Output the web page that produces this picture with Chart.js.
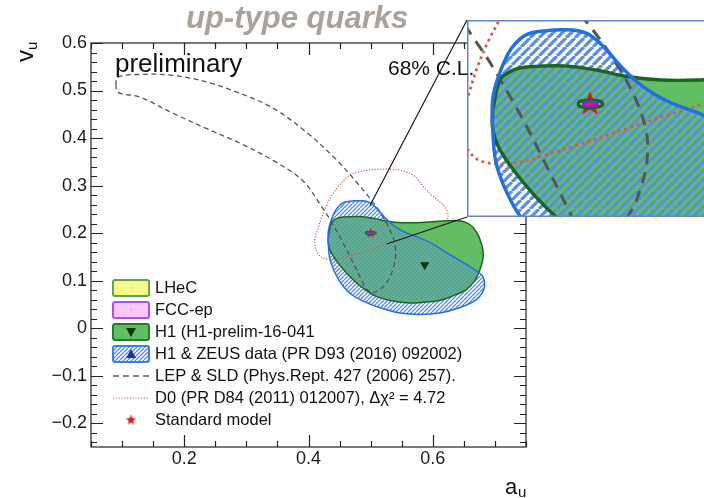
<!DOCTYPE html>
<html>
<head>
<meta charset="utf-8">
<script src="https://cdn.jsdelivr.net/npm/chart.js@4.4.1/dist/chart.umd.min.js"></script>
<style>
  html, body { margin: 0; padding: 0; background: #fff; overflow: hidden; width: 704px; height: 498px; }
  #wrap { position: relative; width: 704px; height: 498px; }
  canvas { position: absolute; }
  #main { left: 0; top: 0; }
  #inset { left: 467px; top: 20px; z-index: 2; }
  .txt { position: absolute; white-space: nowrap; font-family: 'Liberation Sans', Arial, sans-serif; z-index: 3; }
  #title { left: 186px; top: 2px; font-size: 31px; line-height: 31px; font-weight: bold; font-style: italic; color: #aba39b; }
  #prelim { left: 115px; top: 50px; font-size: 26px; line-height: 26px; color: #111; }
  #cl { left: 388px; top: 57px; font-size: 21px; line-height: 21px; color: #111; }
</style>
</head>
<body>
<div id="wrap">
  <canvas id="main" width="704" height="498"></canvas>
  <canvas id="inset" width="237" height="197"></canvas>
  <div class="txt" id="title">up-type quarks</div>
  <div class="txt" id="prelim">preliminary</div>
  <div class="txt" id="cl">68% C.L.</div>
</div>
<script>
// 68% C.L. contours, as [a_u, v_u]
const h1Contour = [
  [0.432, 0.194], [0.437, 0.222], [0.446, 0.231], [0.456, 0.234], [0.483, 0.235],
  [0.505, 0.231], [0.527, 0.225], [0.550, 0.222], [0.575, 0.222], [0.600, 0.224],
  [0.622, 0.226], [0.643, 0.226], [0.654, 0.222], [0.665, 0.212], [0.675, 0.190],
  [0.681, 0.162], [0.680, 0.141], [0.675, 0.120], [0.667, 0.099], [0.654, 0.081],
  [0.638, 0.071], [0.616, 0.060], [0.590, 0.055], [0.563, 0.053], [0.536, 0.057],
  [0.509, 0.067], [0.490, 0.082], [0.470, 0.104], [0.452, 0.130], [0.437, 0.158],
  [0.432, 0.177], [0.432, 0.194]
];
const h1ZeusContour = [
  [0.474, 0.268], [0.456, 0.264], [0.445, 0.251], [0.437, 0.229], [0.432, 0.205],
  [0.432, 0.177], [0.434, 0.148], [0.440, 0.124], [0.450, 0.099], [0.466, 0.074],
  [0.488, 0.057], [0.515, 0.043], [0.547, 0.032], [0.579, 0.029], [0.611, 0.032],
  [0.643, 0.043], [0.670, 0.060], [0.682, 0.081], [0.683, 0.099], [0.678, 0.113],
  [0.654, 0.134], [0.627, 0.155], [0.600, 0.177], [0.577, 0.191], [0.555, 0.202],
  [0.537, 0.216], [0.522, 0.234], [0.510, 0.252], [0.499, 0.264], [0.488, 0.268],
  [0.474, 0.268]
];
const lepSldContour = [
  [0.090, 0.511], [0.093, 0.528], [0.129, 0.534], [0.182, 0.532], [0.236, 0.518],
  [0.290, 0.494], [0.343, 0.463], [0.397, 0.412], [0.446, 0.353], [0.471, 0.317],
  [0.502, 0.268], [0.516, 0.242], [0.530, 0.210], [0.539, 0.177], [0.540, 0.150],
  [0.536, 0.125], [0.528, 0.100], [0.515, 0.082], [0.503, 0.075], [0.492, 0.084],
  [0.486, 0.100], [0.470, 0.142], [0.453, 0.186], [0.432, 0.234], [0.421, 0.256],
  [0.391, 0.310], [0.343, 0.353], [0.290, 0.389], [0.236, 0.420], [0.182, 0.452],
  [0.129, 0.486], [0.093, 0.496], [0.090, 0.511]
];
const d0Contour = [
  [0.531, 0.335], [0.555, 0.330], [0.572, 0.318], [0.585, 0.298], [0.598, 0.280],
  [0.612, 0.265], [0.622, 0.250], [0.624, 0.233], [0.616, 0.219], [0.590, 0.205],
  [0.557, 0.191], [0.525, 0.177], [0.493, 0.163], [0.466, 0.152], [0.445, 0.145],
  [0.423, 0.148], [0.413, 0.162], [0.410, 0.187], [0.415, 0.208], [0.421, 0.233],
  [0.429, 0.258], [0.439, 0.282], [0.448, 0.298], [0.466, 0.321], [0.493, 0.332],
  [0.531, 0.335]
];
const lhecContour = [
  [0.4912, 0.2000], [0.4935, 0.2025], [0.5000, 0.2034], [0.5065, 0.2025], [0.5088, 0.2000],
  [0.5065, 0.1975], [0.5000, 0.1966], [0.4935, 0.1975], [0.4912, 0.2000]
];
const fccContour = [
  [0.4945, 0.2000], [0.4962, 0.2014], [0.5000, 0.2019], [0.5038, 0.2014], [0.5055, 0.2000],
  [0.5038, 0.1986], [0.5000, 0.1981], [0.4962, 0.1986], [0.4945, 0.2000]
];
const h1BestFit = [[0.587, 0.133]];
const standardModel = [[0.5, 0.2]];

const xTickLabels = [0.2, 0.4, 0.6];
const yTickLabels = [-0.2, -0.1, 0, 0.1, 0.2, 0.3, 0.4, 0.5, 0.6];
const legendLabels = [
  'LHeC',
  'FCC-ep',
  'H1 (H1-prelim-16-041',
  'H1 & ZEUS data (PR D93 (2016) 092002)',
  'LEP & SLD (Phys.Rept. 427 (2006) 257).',
  'D0 (PR D84 (2011) 012007), \u0394\u03c7\u00b2 = 4.72',
  'Standard model'
];

// zoomed window of the inset and the two call-out anchors
const insetA = [0.414, 0.5797];
const insetV = [0.0961, 0.2772];
const callout = [[0.499, 0.258], [0.526, 0.177]];

const GREEN = '#62be62', DKGREEN = '#1c661c', BLUE = '#1f6fe6', HATCH = '#5a8de4';
const GRAY = '#555', RED = '#dd5555';
const FONT = "'Liberation Sans', Arial, sans-serif";

Chart.defaults.font.family = FONT;
Chart.defaults.elements.line.capBezierPoints = false;

const pts = a => a.map(([x, y]) => ({x, y}));
const isTick = (list, v) => list.some(t => Math.abs(t - v) < 1e-6);

function hatch(ctx, p, w) {
  const c = document.createElement('canvas');
  c.width = c.height = p;
  const g = c.getContext('2d');
  g.strokeStyle = HATCH; g.lineWidth = w;
  g.beginPath();
  for (const o of [-p, 0, p]) { g.moveTo(o, p); g.lineTo(o + p, 0); }
  g.stroke();
  return ctx.createPattern(c, 'repeat');
}

function starImage(r, color) {
  const s = Math.ceil(r * 2 + 2);
  const c = document.createElement('canvas');
  c.width = c.height = s;
  const g = c.getContext('2d');
  g.fillStyle = color;
  g.beginPath();
  for (let i = 0; i < 10; i++) {
    const rr = i % 2 ? r * 0.42 : r;
    const ang = -Math.PI / 2 + i * Math.PI / 5;
    g.lineTo(s / 2 + rr * Math.cos(ang), s / 2 + rr * Math.sin(ang));
  }
  g.closePath(); g.fill();
  return c;
}

function datasets(k, pattern, star) {
  const curve = { pointRadius: 0, tension: 0.35 };
  return [
    { ...curve, data: pts(h1Contour), fill: 'shape', backgroundColor: GREEN, borderColor: 'transparent', order: 20 },
    { ...curve, data: pts(h1ZeusContour), fill: 'shape', backgroundColor: pattern, borderColor: 'transparent', order: 19 },
    { ...curve, data: pts(d0Contour), fill: false, borderColor: RED, borderWidth: 1.2 * k, borderDash: [1.2 * k, 1.6 * k], order: 15 },
    { ...curve, data: pts(lepSldContour), fill: false, borderColor: GRAY, borderWidth: 1.3 * k, borderDash: [5 * k, 3.5 * k], order: 14 },
    { ...curve, data: pts(h1Contour), fill: false, borderColor: DKGREEN, borderWidth: 1.5 * k, order: 13 },
    { ...curve, data: pts(h1ZeusContour), fill: false, borderColor: BLUE, borderWidth: 1.5 * k, order: 12 },
    { data: pts(standardModel), showLine: false, pointStyle: star, order: 11 },
    { ...curve, data: pts(lhecContour), fill: 'shape', backgroundColor: '#f2ee78', borderColor: DKGREEN, borderWidth: 1.5 * k, order: 10 },
    { ...curve, data: pts(fccContour), fill: 'shape', backgroundColor: '#ff2040', borderColor: '#7a28d8', borderWidth: 1.2 * k, order: 9 },
    { data: pts(h1BestFit), showLine: false, pointStyle: 'triangle', rotation: 180, pointRadius: 4.5 * k,
      backgroundColor: '#0c380c', borderColor: '#0c380c', order: 8 }
  ];
}

const mainCanvas = document.getElementById('main');
const mainCtx = mainCanvas.getContext('2d');
const mainHatch = hatch(mainCtx, 4, 1.3);
const mainStar = starImage(5.5, '#ee1111');

const rootFrame = {
  id: 'rootFrame',
  afterDraw(chart) {
    const {ctx, chartArea: a, scales: {x, y}} = chart;
    ctx.save();
    ctx.strokeStyle = '#222'; ctx.lineWidth = 1.2;
    ctx.strokeRect(a.left, a.top, a.right - a.left, a.bottom - a.top);
    ctx.beginPath();
    for (let i = 0; i <= 14; i++) {
      const v = 0.05 + i * 0.05;
      const len = isTick(xTickLabels, v) ? 12 : 6;
      const px = Math.round(x.getPixelForValue(v)) + 0.5;
      ctx.moveTo(px, a.bottom); ctx.lineTo(px, a.bottom - len);
      ctx.moveTo(px, a.top); ctx.lineTo(px, a.top + len);
    }
    for (let i = 0; i <= 42; i++) {
      const v = -0.24 + i * 0.02;
      const len = isTick(yTickLabels, v) ? 12 : 6;
      const py = Math.round(y.getPixelForValue(v)) + 0.5;
      ctx.moveTo(a.left, py); ctx.lineTo(a.left + len, py);
      ctx.moveTo(a.right, py); ctx.lineTo(a.right - len, py);
    }
    ctx.stroke();

    // call-out lines towards the inset corners
    ctx.strokeStyle = '#1a1a1a'; ctx.lineWidth = 1.2;
    ctx.beginPath();
    ctx.moveTo(x.getPixelForValue(callout[0][0]), y.getPixelForValue(callout[0][1]));
    ctx.lineTo(467, 20);
    ctx.moveTo(x.getPixelForValue(callout[1][0]), y.getPixelForValue(callout[1][1]));
    ctx.lineTo(467, 217);
    ctx.stroke();

    // axis titles
    ctx.fillStyle = '#111';
    ctx.textBaseline = 'alphabetic';
    ctx.textAlign = 'left';
    ctx.font = '22px ' + FONT;
    ctx.fillText('a', 505, 494);
    ctx.font = '15px ' + FONT;
    ctx.fillText('u', 518, 497);
    ctx.save();
    ctx.translate(33, 62);
    ctx.rotate(-Math.PI / 2);
    ctx.font = '24px ' + FONT;
    ctx.fillText('v', 0, 0);
    ctx.font = '15px ' + FONT;
    ctx.fillText('u', 12, 4);
    ctx.restore();

    // legend
    const bx = 113, bw = 36, bh = 16, cx = bx + bw / 2;
    const rowY = i => 288 + i * 22;
    const box = (i, fill, stroke) => {
      ctx.beginPath();
      ctx.roundRect(bx, rowY(i) - bh / 2, bw, bh, 2);
      ctx.fillStyle = fill; ctx.fill();
      ctx.strokeStyle = stroke; ctx.lineWidth = 2; ctx.stroke();
    };
    const tri = (yc, up, color) => {
      ctx.beginPath();
      if (up) { ctx.moveTo(cx, yc - 5); ctx.lineTo(cx + 5, yc + 4); ctx.lineTo(cx - 5, yc + 4); }
      else { ctx.moveTo(cx, yc + 5); ctx.lineTo(cx + 5, yc - 4); ctx.lineTo(cx - 5, yc - 4); }
      ctx.closePath(); ctx.fillStyle = color; ctx.fill();
    };
    box(0, '#fbf98a', '#5aa84e');
    box(1, '#f9c8f9', '#b050e8');
    box(2, GREEN, '#2a7a2a');
    tri(rowY(2), false, '#0c380c');
    box(3, mainHatch, '#3a7ee6');
    tri(rowY(3), true, '#1a3a9a');
    ctx.fillStyle = '#999';
    ctx.fillRect(cx - 0.5, rowY(0) - 0.5, 1, 1);
    ctx.fillRect(cx - 0.5, rowY(1) - 0.5, 1, 1);
    ctx.lineWidth = 1.3; ctx.strokeStyle = GRAY; ctx.setLineDash([6, 4]);
    ctx.beginPath(); ctx.moveTo(bx, rowY(4)); ctx.lineTo(bx + bw, rowY(4)); ctx.stroke();
    ctx.lineWidth = 1.1; ctx.strokeStyle = RED; ctx.setLineDash([1.2, 1.6]);
    ctx.beginPath(); ctx.moveTo(bx, rowY(5)); ctx.lineTo(bx + bw, rowY(5)); ctx.stroke();
    ctx.setLineDash([]);
    ctx.drawImage(mainStar, cx - mainStar.width / 2, rowY(6) - mainStar.height / 2);
    ctx.fillStyle = '#111';
    ctx.font = '16.5px ' + FONT;
    ctx.textBaseline = 'middle';
    legendLabels.forEach((t, i) => ctx.fillText(t, 155, rowY(i)));
    ctx.restore();
  }
};

const fmt = v => Math.abs(v) < 1e-9 ? '0' : (v < 0 ? '\u2212' + Math.abs(v).toFixed(1) : v.toFixed(1));

new Chart(mainCtx, {
  type: 'line',
  data: { datasets: datasets(1, mainHatch, mainStar) },
  options: {
    responsive: false,
    animation: false,
    events: [],
    layout: { autoPadding: false, padding: { top: 43, right: 178, left: 0, bottom: 0 } },
    plugins: { legend: { display: false }, tooltip: { enabled: false } },
    scales: {
      x: {
        type: 'linear', min: 0.05, max: 0.75,
        afterFit: s => { s.height = 51; },
        grid: { display: false, drawTicks: false }, border: { display: false },
        ticks: { stepSize: 0.2, autoSkip: false, maxRotation: 0, padding: 1, color: '#1a1a1a', font: { size: 18 },
          callback: v => isTick(xTickLabels, v) ? fmt(v) : '' }
      },
      y: {
        type: 'linear', min: -0.25, max: 0.6,
        afterFit: s => { s.width = 91; },
        grid: { display: false, drawTicks: false }, border: { display: false },
        ticks: { stepSize: 0.1, autoSkip: false, padding: 4, color: '#1a1a1a', font: { size: 18 },
          callback: v => isTick(yTickLabels, v) ? fmt(v) : '' }
      }
    }
  },
  plugins: [rootFrame]
});

// magnified view around the Standard Model point
const insetCtx = document.getElementById('inset').getContext('2d');
const insetBox = {
  id: 'insetBox',
  beforeDraw(chart) {
    const {ctx, width, height} = chart;
    ctx.save(); ctx.fillStyle = '#fff'; ctx.fillRect(0, 0, width, height); ctx.restore();
  },
  afterDraw(chart) {
    const {ctx, width, height} = chart;
    ctx.save();
    ctx.strokeStyle = '#5f86c6'; ctx.lineWidth = 1.5;
    ctx.beginPath();
    ctx.moveTo(width, 0.75); ctx.lineTo(0.75, 0.75); ctx.lineTo(0.75, height - 0.75); ctx.lineTo(width, height - 0.75);
    ctx.stroke();
    ctx.restore();
  }
};

new Chart(insetCtx, {
  type: 'line',
  data: { datasets: datasets(2.3, hatch(insetCtx, 9, 3.2), starImage(13, '#ee1111')) },
  options: {
    responsive: false,
    animation: false,
    events: [],
    layout: { autoPadding: false, padding: 0 },
    plugins: { legend: { display: false }, tooltip: { enabled: false } },
    scales: {
      x: { type: 'linear', display: false, min: insetA[0], max: insetA[1] },
      y: { type: 'linear', display: false, min: insetV[0], max: insetV[1] }
    }
  },
  plugins: [insetBox]
});
</script>
</body>
</html>
